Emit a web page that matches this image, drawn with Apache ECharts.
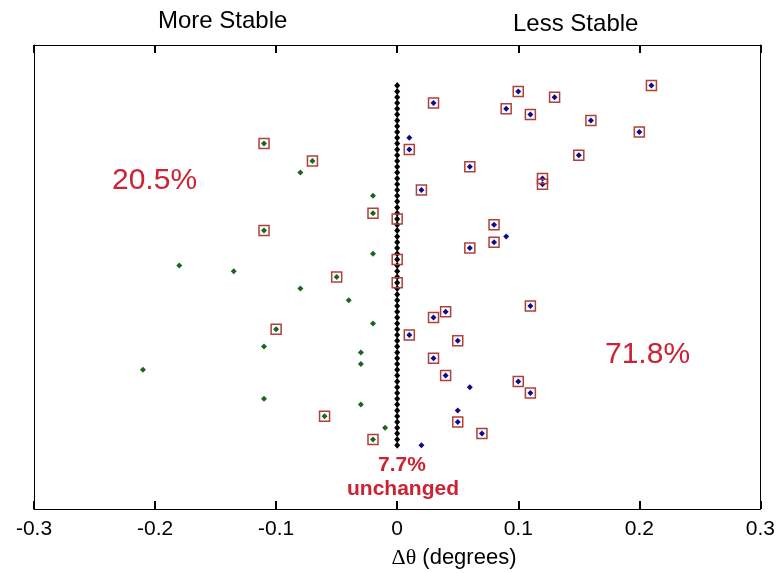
<!DOCTYPE html>
<html>
<head>
<meta charset="utf-8">
<script src="https://cdn.jsdelivr.net/npm/echarts@6/dist/echarts.min.js"></script>
<style>
  html, body { margin: 0; padding: 0; background: #fff; }
  #main { width: 778px; height: 573px; }
</style>
</head>
<body>
<div id="main"></div>
<script>
// x ticks
var xTicks = [-0.3, -0.2, -0.1, 0, 0.1, 0.2, 0.3];

// rows run top to bottom (index of item), x is the change in degrees
var lessX   = [0.21, 0.1, 0.13, 0.03, 0.09, 0.11, 0.16, 0.2, 0.01, 0.01, 0.15, 0.06, 0.12, 0.12, 0.02,
               0.08, 0.09, 0.08, 0.06, 0.11, 0.04, 0.03, 0.01, 0.05, 0.03, 0.04, 0.1, 0.06, 0.11, 0.05,
               0.05, 0.07, 0.02];
var lessRow = [0, 1, 2, 3, 4, 5, 6, 8, 9, 11, 12, 14, 16, 17, 18,
               24, 26, 27, 28, 38, 39, 40, 43, 44, 47, 50, 51, 52, 53, 56,
               58, 60, 62];

var moreX   = [-0.11, -0.07, -0.08, -0.02, -0.02, -0.11, -0.02, -0.18, -0.135, -0.05, -0.08, -0.04,
               -0.02, -0.1, -0.11, -0.03, -0.03, -0.21, -0.11, -0.03, -0.06, -0.01, -0.02];
var moreRow = [10, 13, 15, 19, 22, 25, 29, 31, 32, 33, 35, 37,
               41, 42, 45, 46, 48, 49, 54, 55, 57, 59, 61];

// items inside the selection box (red squares)
var boxX   = [0.21, 0.1, 0.13, 0.03, 0.09, 0.11, 0.16, 0.2, 0.01, 0.15, 0.06, 0.12, 0.12, 0.02,
              0.08, 0.08, 0.06, 0.11, 0.04, 0.03, 0.01, 0.05, 0.03, 0.04, 0.1, 0.11, 0.05, 0.07,
              -0.11, -0.07, -0.02, -0.11, -0.05, -0.1, -0.06, -0.02,
              0, 0, 0];
var boxRow = [0, 1, 2, 3, 4, 5, 6, 8, 11, 12, 14, 16, 17, 18,
              24, 27, 28, 38, 39, 40, 43, 44, 47, 50, 51, 53, 58, 60,
              10, 13, 22, 25, 33, 42, 57, 61,
              23, 30, 34];

// zero line, one marker per item
var zeroRow = [0, 1, 2, 3, 4, 5, 6, 7, 8, 9, 10, 11, 12, 13, 14, 15, 16, 17, 18, 19, 20,
               21, 22, 23, 24, 25, 26, 27, 28, 29, 30, 31, 32, 33, 34, 35, 36, 37, 38, 39, 40,
               41, 42, 43, 44, 45, 46, 47, 48, 49, 50, 51, 52, 53, 54, 55, 56, 57, 58, 59, 60,
               61, 62];

function pairs(xs, ys) {
  var out = [];
  for (var i = 0; i < xs.length; i++) out.push([xs[i], ys[i]]);
  return out;
}

var font = 'Arial, "Liberation Sans", sans-serif';
var red = '#cc2233';

var xAxisBase = function (pos) {
  return {
    type: 'value', min: -0.3, max: 0.3, interval: 0.1, position: pos,
    axisLine: { show: true, onZero: false, lineStyle: { color: '#000', width: 1 } },
    axisTick: { show: true, inside: true, length: 8, lineStyle: { color: '#000', width: 2 } },
    axisLabel: { show: false },
    splitLine: { show: false }
  };
};
var bottomAxis = xAxisBase('bottom');
bottomAxis.axisLabel = { show: true, color: '#000', fontSize: 21, fontFamily: font, margin: 10,
  formatter: function (v) { return String(Math.round(v * 10) / 10); } };

var yAxisBase = function (pos) {
  return {
    type: 'value', min: -7, max: 73, inverse: true, position: pos,
    axisLine: { show: true, onZero: false, lineStyle: { color: '#000', width: 1 } },
    axisTick: { show: false }, axisLabel: { show: false }, splitLine: { show: false }
  };
};

var chart = echarts.init(document.getElementById('main'));
var option = {
  animation: false,
  grid: { left: 34, right: 15, top: 45, bottom: 64 },
  xAxis: [bottomAxis, xAxisBase('top')],
  yAxis: [yAxisBase('left'), yAxisBase('right')],
  series: [
    {
      type: 'scatter', name: 'unchanged',
      data: zeroRow.map(function (r) { return [0, r]; }),
      symbol: 'diamond', symbolSize: [6, 7],
      itemStyle: { color: '#000', opacity: 1 }
    },
    {
      type: 'scatter', name: 'less',
      data: pairs(lessX, lessRow),
      symbol: 'diamond', symbolSize: 6,
      itemStyle: { color: '#0c0c8c', opacity: 1 }
    },
    {
      type: 'scatter', name: 'more',
      data: pairs(moreX, moreRow),
      symbol: 'diamond', symbolSize: 6,
      itemStyle: { color: '#1a6620', opacity: 1 }
    },
    {
      type: 'scatter', name: 'box',
      data: pairs(boxX, boxRow),
      symbol: 'rect', symbolSize: 10,
      itemStyle: { color: 'transparent', borderColor: '#b0403a', borderWidth: 1.5, opacity: 1 }
    }
  ],
  graphic: [
    { type: 'text', left: 158, top: 9, style: { text: 'More Stable', font: '24px ' + font, fill: '#000' } },
    { type: 'text', left: 513, top: 12, style: { text: 'Less Stable', font: '24px ' + font, fill: '#000' } },
    { type: 'text', left: 112, top: 166, style: { text: '20.5%', font: '30px ' + font, fill: red } },
    { type: 'text', left: 605, top: 340, style: { text: '71.8%', font: '30px ' + font, fill: red } },
    { type: 'text', x: 402, y: 465, style: { text: '7.7%', font: 'bold 21px ' + font, fill: red, align: 'center', verticalAlign: 'middle' } },
    { type: 'text', x: 403, y: 489, style: { text: 'unchanged', font: 'bold 21px ' + font, fill: red, align: 'center', verticalAlign: 'middle' } },
    { type: 'text', x: 454, y: 558, style: {
        text: '{s|Δθ} (degrees)', align: 'center', verticalAlign: 'middle',
        font: '22px ' + font, fill: '#000',
        rich: { s: { fontFamily: '"Liberation Serif", serif', fontSize: 22, fill: '#000' } }
    } }
  ]
};
chart.setOption(option);
</script>
</body>
</html>
